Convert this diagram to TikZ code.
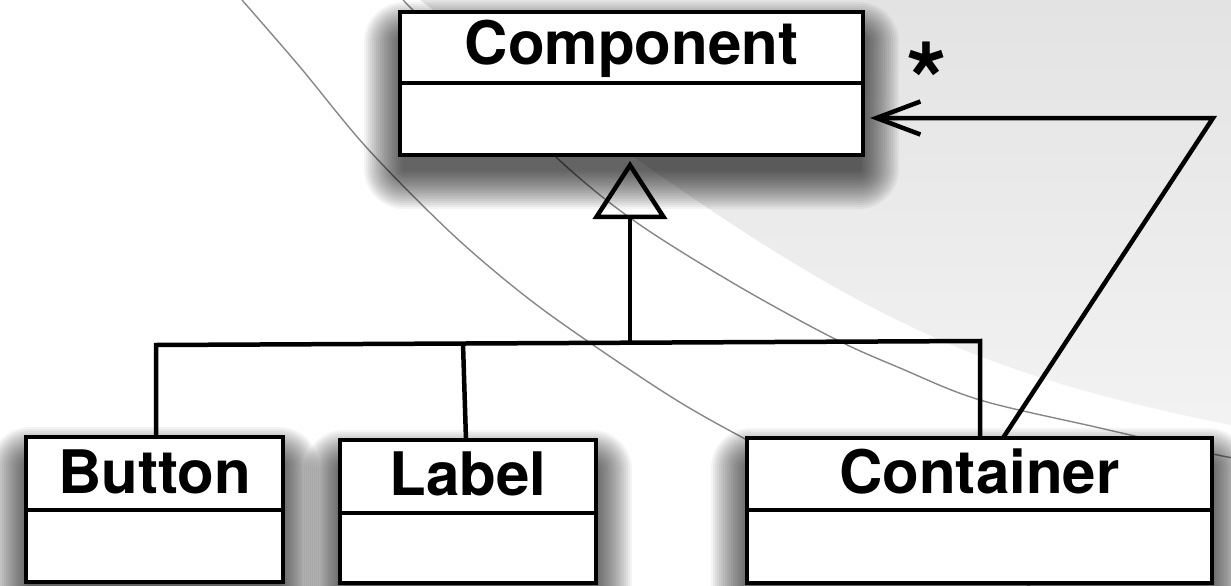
\documentclass[tikz,border=0pt]{standalone}
\usepackage{fontspec}
\setmainfont{TeX Gyre Heros}
\usetikzlibrary{arrows.meta,fit,calc}

\tikzset{
  umlbox/.style={draw=black, fill=white, line width=4.5pt, inner sep=0pt, outer sep=0pt,
    line join=miter},
  umlline/.style={draw=black, line width=4.5pt},
  shadowlayer/.style={fill=black, opacity=0.045},
  classname/.style={font=\fontsize{60}{60}\selectfont\bfseries, anchor=base, inner sep=0pt},
  multlabel/.style={font=\fontsize{105}{105}\selectfont\bfseries, anchor=base, inner sep=0pt},
  backcurve/.style={draw=black!47, line width=1.4pt},
}

% #1 name, #2 left, #3 top, #4 right, #5 bottom, #6 divider y, #7 baseline y, #8 title
\newcommand{\classbox}[8]{%
  % soft drop shadow built from stacked translucent layers, dropped below the box
  \foreach \e in {2,4,...,40} {
    \fill[shadowlayer, rounded corners=\e pt]
      (#2+4-\e, #3+30-\e) rectangle (#4-4+\e, #5+14+\e);
  }
  \node[umlbox, fit={(#2,#3) (#4,#5)}] (#1) {};
  \draw[umlline] (#1.west |- 0,#6) -- (#1.east |- 0,#6);
  \node[classname] (#1-name) at (#1.center |- 0,#7) {#8};
}

\begin{document}
\begin{tikzpicture}[x=1pt, y=-1pt]
  \useasboundingbox (0,0) rectangle (1231,586);

  % slide background: white page, grey sweep and two thin arcs
  \begin{scope}
    \clip (0,0) rectangle (1231,586);
    \fill[white] (0,0) rectangle (1231,586);
    \shade[top color=black!11, bottom color=black!5]
      (420,0) .. controls (820,300) and (931,365) .. (1231,425) -- (1231,0) -- cycle;
    \draw[backcurve] plot[smooth, tension=0.55] coordinates
      {(242,0) (300,67) (367,148) (450,232) (520,292) (583,338) (673,398)
       (747,440) (880,510) (1000,570) (1040,592)};
    \draw[backcurve] plot[smooth, tension=0.55] coordinates
      {(403,0) (480,78) (557,158) (633,220) (733,283) (833,338) (900,368)
       (980,400) (1100,428) (1213,454) (1240,459)};
  \end{scope}

  % classes
  \classbox{comp}{400}{12}{863}{155}{83}{65}{Component}
  \classbox{button}{26}{437}{283}{582}{510}{493}{Button}
  \classbox{label}{340}{440}{596}{583}{513}{495}{Label}
  \classbox{cont}{747}{438}{1212}{583}{510}{493}{Container}

  % generalization tree
  \coordinate (bj) at (156,345);
  \coordinate (lj) at (463,343.5);
  \coordinate (hub) at (630,342.5);
  \coordinate (cj) at (980,341);
  \draw[umlline, line join=miter] (bj |- button.north) -- (bj) -- (cj) -- (cj |- cont.north);
  \draw[umlline] (lj) -- ([xshift=3pt]lj |- label.north);
  \draw[umlline, -{Triangle[open, length=58pt, width=74pt]}]
    (hub) -- ([yshift=-6pt]hub |- comp.south);

  % aggregation from Container back to Component
  \coordinate (corner) at (1213,118);
  \draw[umlline, line join=miter, -{Straight Barb[length=44pt, width=33pt]}]
    ([xshift=23.5pt]cont.north) -- (corner) -- ([xshift=7pt]comp.east |- corner);
  \node[multlabel] (mult) at (927,118) {*};
\end{tikzpicture}
\end{document}
